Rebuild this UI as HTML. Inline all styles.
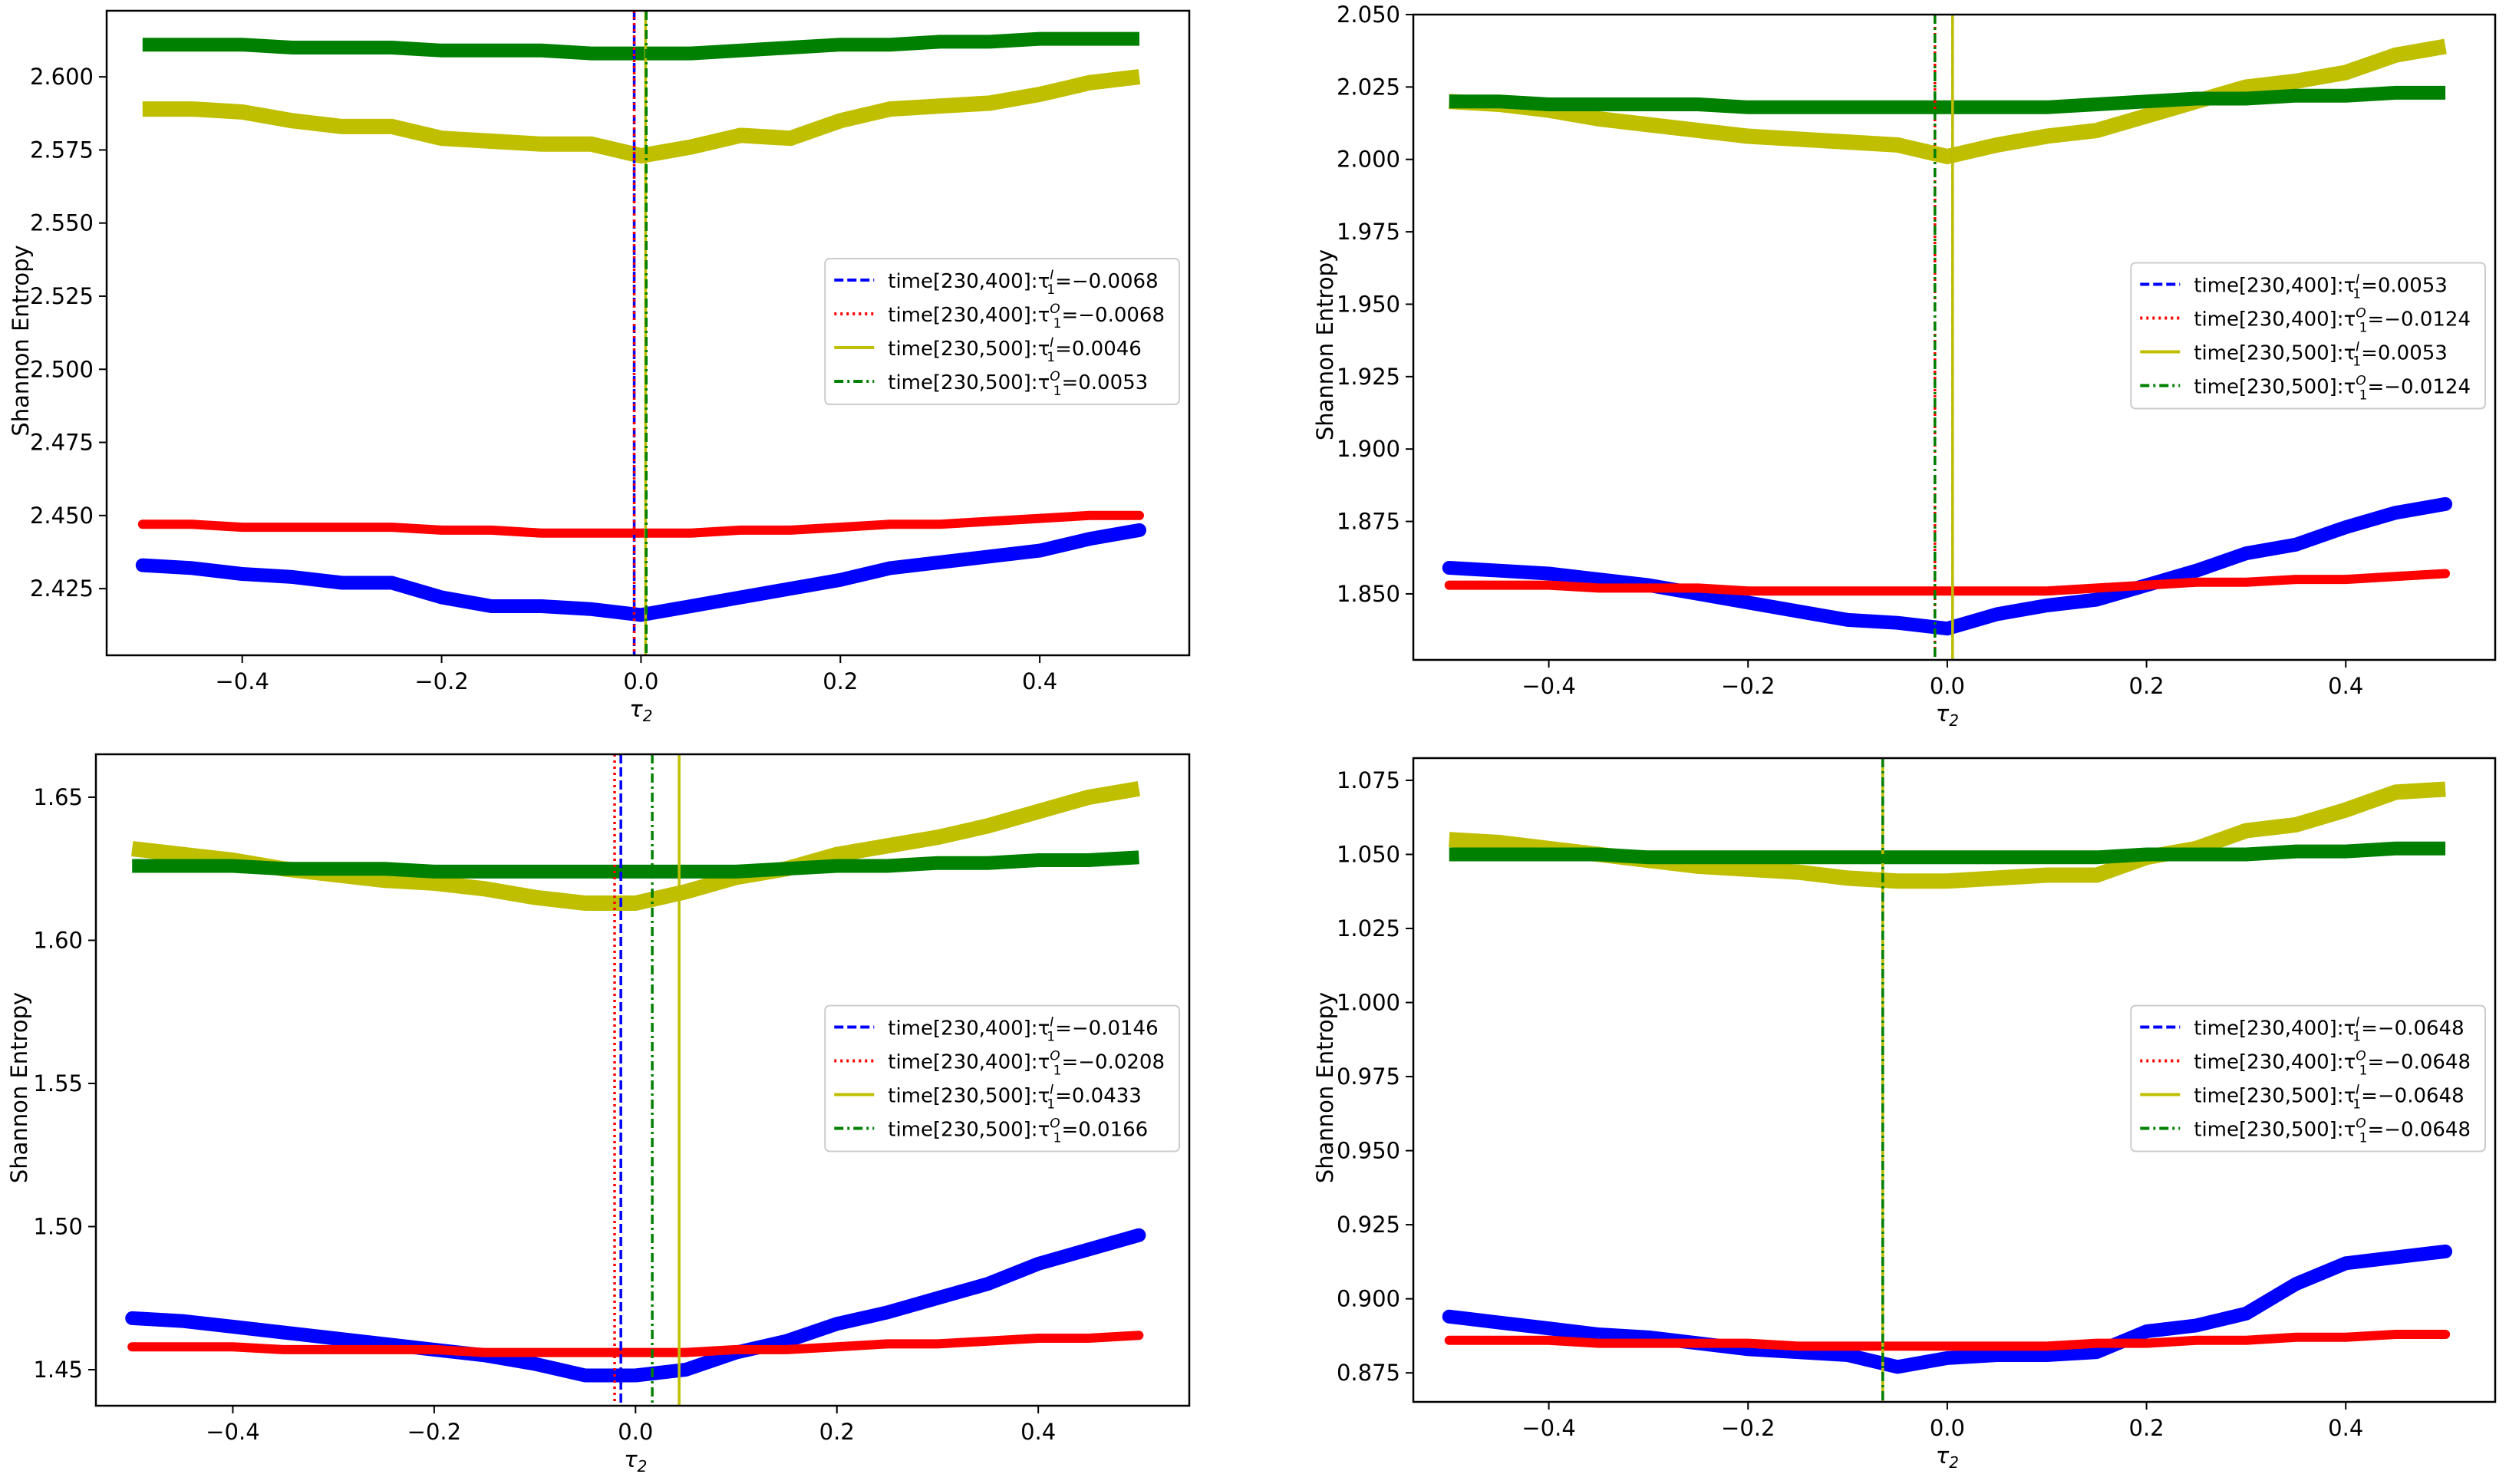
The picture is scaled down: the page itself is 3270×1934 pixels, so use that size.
<!DOCTYPE html>
<html><head><meta charset="utf-8"><style>
html,body{margin:0;padding:0;background:#fff;}
svg text{font-family:"DejaVu Sans","Liberation Sans",sans-serif;}
</style></head><body>
<svg id="fig" width="3270" height="1929" xmlns="http://www.w3.org/2000/svg"></svg>
<script>
const xs = [-0.5,-0.45,-0.4,-0.35,-0.3,-0.25,-0.2,-0.15,-0.1,-0.05,0,0.05,0.1,0.15,0.2,0.25,0.3,0.35,0.4,0.45,0.5];
// Panel 1
const p1Green = [2.611,2.611,2.611,2.610,2.610,2.610,2.609,2.609,2.609,2.608,2.608,2.608,2.609,2.610,2.611,2.611,2.612,2.612,2.613,2.613,2.613];
const p1Yellow = [2.589,2.589,2.588,2.585,2.583,2.583,2.579,2.578,2.577,2.577,2.573,2.576,2.580,2.579,2.585,2.589,2.590,2.591,2.594,2.598,2.600];
const p1Red = [2.447,2.447,2.446,2.446,2.446,2.446,2.445,2.445,2.444,2.444,2.444,2.444,2.445,2.445,2.446,2.447,2.447,2.448,2.449,2.450,2.450];
const p1Blue = [2.433,2.432,2.430,2.429,2.427,2.427,2.422,2.419,2.419,2.418,2.416,2.419,2.422,2.425,2.428,2.432,2.434,2.436,2.438,2.442,2.445];
const p1Vlines = [-0.0068,-0.0068,0.0046,0.0053];
// Panel 2
const p2Green = [2.020,2.020,2.019,2.019,2.019,2.019,2.018,2.018,2.018,2.018,2.018,2.018,2.018,2.019,2.020,2.021,2.021,2.022,2.022,2.023,2.023];
const p2Yellow = [2.020,2.019,2.017,2.014,2.012,2.010,2.008,2.007,2.006,2.005,2.001,2.005,2.008,2.010,2.015,2.020,2.025,2.027,2.030,2.036,2.039];
const p2Red = [1.853,1.853,1.853,1.852,1.852,1.852,1.851,1.851,1.851,1.851,1.851,1.851,1.851,1.852,1.853,1.854,1.854,1.855,1.855,1.856,1.857];
const p2Blue = [1.859,1.858,1.857,1.855,1.853,1.850,1.847,1.844,1.841,1.840,1.838,1.843,1.846,1.848,1.853,1.858,1.864,1.867,1.873,1.878,1.881];
const p2Vlines = [0.0053,-0.0124,0.0053,-0.0124];
// Panel 3
const p3Green = [1.626,1.626,1.626,1.625,1.625,1.625,1.624,1.624,1.624,1.624,1.624,1.624,1.624,1.625,1.626,1.626,1.627,1.627,1.628,1.628,1.629];
const p3Yellow = [1.632,1.630,1.628,1.625,1.623,1.621,1.620,1.618,1.615,1.613,1.613,1.617,1.622,1.625,1.630,1.633,1.636,1.640,1.645,1.650,1.653];
const p3Red = [1.458,1.458,1.458,1.457,1.457,1.457,1.457,1.456,1.456,1.456,1.456,1.456,1.457,1.457,1.458,1.459,1.459,1.460,1.461,1.461,1.462];
const p3Blue = [1.468,1.467,1.465,1.463,1.461,1.459,1.457,1.455,1.452,1.448,1.448,1.450,1.456,1.460,1.466,1.470,1.475,1.480,1.487,1.492,1.497];
const p3Vlines = [-0.0146,-0.0208,0.0433,0.0166];
// Panel 4
const p4Green = [1.050,1.050,1.050,1.050,1.049,1.049,1.049,1.049,1.049,1.049,1.049,1.049,1.049,1.049,1.050,1.050,1.050,1.051,1.051,1.052,1.052];
const p4Yellow = [1.055,1.054,1.052,1.050,1.048,1.046,1.045,1.044,1.042,1.041,1.041,1.042,1.043,1.043,1.049,1.052,1.058,1.060,1.065,1.071,1.072];
const p4Red = [0.886,0.886,0.886,0.885,0.885,0.885,0.885,0.884,0.884,0.884,0.884,0.884,0.884,0.885,0.885,0.886,0.886,0.887,0.887,0.888,0.888];
const p4Blue = [0.894,0.892,0.890,0.888,0.887,0.885,0.883,0.882,0.881,0.877,0.880,0.881,0.881,0.882,0.889,0.891,0.895,0.905,0.912,0.914,0.916];
const p4Vlines = [-0.0648,-0.0648,-0.0648,-0.0648];
const xTicks = [-0.4,-0.2,0.0,0.2,0.4];
const p1YTicks = [2.425,2.450,2.475,2.500,2.525,2.550,2.575,2.600];
const p2YTicks = [1.850,1.875,1.900,1.925,1.950,1.975,2.000,2.025,2.050];
const p3YTicks = [1.45,1.50,1.55,1.60,1.65];
const p4YTicks = [0.875,0.900,0.925,0.950,0.975,1.000,1.025,1.050,1.075];

const NS="http://www.w3.org/2000/svg";
const fig=document.getElementById('fig');
function mk(tag,attrs,parent){const e=document.createElementNS(NS,tag);for(const k in attrs)e.setAttribute(k,attrs[k]);(parent||fig).appendChild(e);return e;}

const panels=[
 {L:139,R:1550,T:14,B:854,ymin:2.4022,ymax:2.6226,yt:p1YTicks,dec:3,s:[p1Blue,p1Red,p1Yellow,p1Green],v:p1Vlines,ylx:27},
 {L:1842,R:3252,T:19,B:860,ymin:1.8272,ymax:2.050,yt:p2YTicks,dec:3,s:[p2Blue,p2Red,p2Yellow,p2Green],v:p2Vlines,ylx:1727},
 {L:125,R:1550,T:983,B:1832,ymin:1.4374,ymax:1.665,yt:p3YTicks,dec:2,s:[p3Blue,p3Red,p3Yellow,p3Green],v:p3Vlines,ylx:25},
 {L:1842,R:3252,T:988,B:1827,ymin:0.8652,ymax:1.0825,yt:p4YTicks,dec:3,s:[p4Blue,p4Red,p4Yellow,p4Green],v:p4Vlines,ylx:1727}
];
const XMIN=-0.536,XMAX=0.55;
const colors=['#0000ff','#ff0000','#bfbf00','#008000'];
const widths=[18,12,20,18];
const vdash=['12,5','3,5','','12,5,3,5'];
const names=['blue-series','red-series','yellow-series','green-series'];
const vnames=['blue-vline','red-vline','yellow-vline','green-vline'];
const legendPrefix=['time[230,400]:','time[230,400]:','time[230,500]:','time[230,500]:'];
const legendSup=['I','O','I','O'];

panels.forEach((p,pi)=>{
  const g=mk('g',{});
  
  
  const sx=v=>p.L+(v-XMIN)/(XMAX-XMIN)*(p.R-p.L);
  const sy=v=>p.B-(v-p.ymin)/(p.ymax-p.ymin)*(p.B-p.T);
  const clipId='clip'+pi;
  const cp=mk('clipPath',{id:clipId},g);
  mk('rect',{x:p.L,y:p.T,width:p.R-p.L,height:p.B-p.T},cp);
  const plot=mk('g',{'clip-path':'url(#'+clipId+')'},g);
  p.s.forEach((arr,si)=>{
    const pts=arr.map((v,i)=>sx(xs[i]).toFixed(1)+','+sy(v).toFixed(1)).join(' ');
    const pl=mk('polyline',{points:pts,fill:'none',stroke:colors[si],'stroke-width':widths[si],'stroke-linejoin':si<2?'round':'miter','stroke-linecap':si<2?'round':'butt'},plot);
    
    
  });
  p.v.forEach((v,vi)=>{
    const ln=mk('line',{x1:sx(v),x2:sx(v),y1:p.T,y2:p.B,stroke:colors[vi],'stroke-width':3.5},plot);
    if(vdash[vi])ln.setAttribute('stroke-dasharray',vdash[vi]);
    
    
  });
  const fr=mk('rect',{x:p.L,y:p.T,width:p.R-p.L,height:p.B-p.T,fill:'none',stroke:'#000','stroke-width':2.5},g);
  
  
  xTicks.forEach(t=>{
    const x=sx(t);
    mk('line',{x1:x,x2:x,y1:p.B,y2:p.B+10,stroke:'#000','stroke-width':2},g);
    const tx=mk('text',{x:x,y:p.B+44,'font-size':29,'text-anchor':'middle'},g);
    tx.textContent=(t<0?'\u2212':'')+Math.abs(t).toFixed(1);
    
    
  });
  p.yt.forEach(t=>{
    const y=sy(t);
    mk('line',{x1:p.L-10,x2:p.L,y1:y,y2:y,stroke:'#000','stroke-width':2},g);
    const tx=mk('text',{x:p.L-17,y:y+10,'font-size':29,'text-anchor':'end'},g);
    tx.textContent=t.toFixed(p.dec);
    
    
  });
  const xl=mk('text',{x:sx(0),y:p.B+80,'font-size':29,'text-anchor':'middle','font-style':'italic'},g);
  xl.textContent='τ';
  const xs2=mk('tspan',{'font-size':20,dy:6},xl);xs2.textContent='2';
  
  
  const cy=(p.T+p.B)/2;
  const yl=mk('text',{x:p.ylx,y:cy,'font-size':29,'text-anchor':'middle',transform:'rotate(-90 '+(p.ylx+10)+' '+cy+')'},g);
  yl.textContent='Shannon Entropy';
  
  
  const lg=mk('g',{},g);
  
  
  const box=mk('rect',{rx:6,ry:6,fill:'#fff','fill-opacity':0.8,stroke:'#cccccc','stroke-width':2},lg);
  const rowH=44, lh=4*rowH+10;
  const top=cy-lh/2;
  let maxW=0;const texts=[];
  for(let i=0;i<4;i++){
    const ry=top+24+i*rowH;
    const ent=mk('g',{},lg);
    
    
    const hl=mk('line',{y1:ry,y2:ry,stroke:colors[i],'stroke-width':4},ent);
    if(vdash[i])hl.setAttribute('stroke-dasharray',vdash[i]);
    const t=mk('text',{y:ry+10,'font-size':26},ent);
    t.appendChild(document.createTextNode(legendPrefix[i]+'τ'));
    const sup=mk('tspan',{'font-size':17,'font-style':'italic',dy:-11},t);sup.textContent=legendSup[i];
    const sub=mk('tspan',{'font-size':17,dx:-9,dy:19},t);sub.textContent='1';
    const rest=mk('tspan',{dy:-8},t);
    const val=p.v[i];
    rest.textContent='='+(val<0?'\u2212':'')+Math.abs(val).toFixed(4);
    texts.push([hl,t]);
    maxW=Math.max(maxW,t.getComputedTextLength());
  }
  const bw=maxW+92, bx=p.R-13-bw;
  box.setAttribute('x',bx);box.setAttribute('y',top-4);box.setAttribute('width',bw);box.setAttribute('height',lh+4);
  texts.forEach(([hl,t])=>{hl.setAttribute('x1',bx+12);hl.setAttribute('x2',bx+64);t.setAttribute('x',bx+82);});
});
</script>
</body></html>
